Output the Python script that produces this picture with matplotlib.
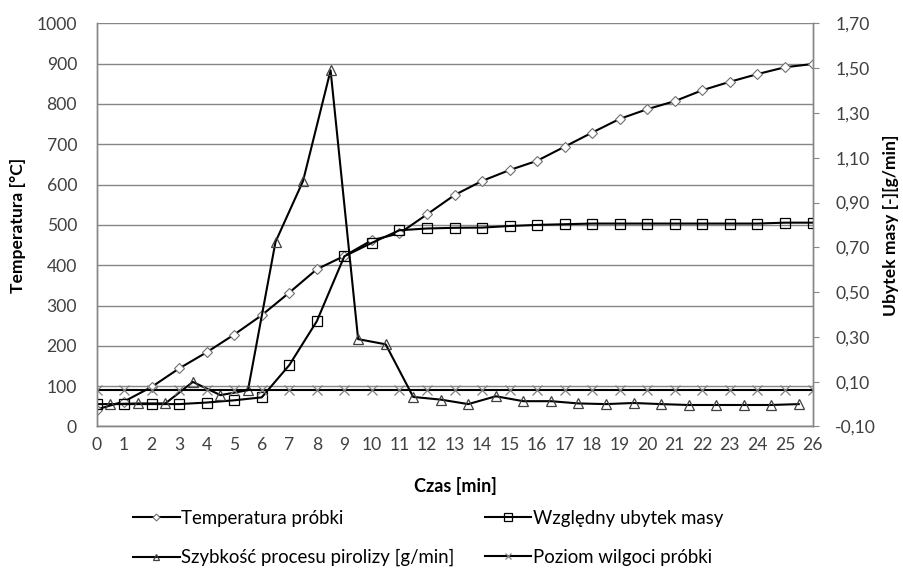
import matplotlib
matplotlib.use('Agg')
import matplotlib.pyplot as plt
from matplotlib.lines import Line2D

plt.rcParams['font.family'] = ['Lato', 'DejaVu Sans']

# czas pomiaru [min]
czas = [0, 1, 2, 3, 4, 5, 6, 7, 8, 9, 10, 11, 12, 13, 14, 15, 16, 17, 18,
        19, 20, 21, 22, 23, 24, 25, 26]
# szybkosc liczona w polowie przedzialow czasu
czas_srodek = [0.5, 1.5, 2.5, 3.5, 4.5, 5.5, 6.5, 7.5, 8.5, 9.5, 10.5, 11.5,
               12.5, 13.5, 14.5, 15.5, 16.5, 17.5, 18.5, 19.5, 20.5, 21.5,
               22.5, 23.5, 24.5, 25.5]

temperatura = [42, 62, 98, 144, 184, 228, 276, 332, 390, 423, 462, 479, 526,
               574, 609, 636, 659, 694, 729, 763, 787, 807, 834, 855, 874,
               891, 899]
ubytek_masy = [0.0, 0.0, 0.0, 0.0, 0.007, 0.017, 0.03, 0.174, 0.37, 0.66,
               0.72, 0.776, 0.784, 0.787, 0.788, 0.795, 0.80, 0.803, 0.806,
               0.806, 0.806, 0.806, 0.806, 0.806, 0.806, 0.81, 0.81]
szybkosc = [0.0, 0.003, 0.003, 0.099, 0.04, 0.062, 0.724, 0.996, 1.49, 0.29,
            0.267, 0.032, 0.02, 0.0, 0.035, 0.013, 0.013, 0.003, 0.0, 0.005,
            0.0, -0.004, -0.004, -0.004, -0.004, 0.0]
wilgoc = [0.065, 0.065, 0.065, 0.065, 0.065, 0.065, 0.065, 0.065, 0.065,
          0.065, 0.065, 0.065, 0.065, 0.065, 0.065, 0.065, 0.065, 0.065,
          0.065, 0.065, 0.065, 0.065, 0.065, 0.065, 0.065, 0.065, 0.065]

lewe_ticki = [0, 100, 200, 300, 400, 500, 600, 700, 800, 900, 1000]
prawe_ticki = [-0.10, 0.10, 0.30, 0.50, 0.70, 0.90, 1.10, 1.30, 1.50, 1.70]

nazwy = ['Temperatura próbki', 'Względny ubytek masy',
         'Szybkość procesu pirolizy [g/min]', 'Poziom wilgoci próbki']

szary = '#868686'
tekst = '#404040'
fs = 12.6

fig = plt.figure(figsize=(9.04, 5.69), dpi=100)
ax = fig.add_axes([0.10675, 0.25044, 0.79204, 0.70861])
ax2 = ax.twinx()

ax.set_xlim(0, 26)
ax.set_ylim(0, 1000)
ax2.set_ylim(-0.1, 1.7)

ax.set_xticks(czas)
ax.set_yticks(lewe_ticki)
ax2.set_yticks(prawe_ticki)
ax2.set_yticklabels([('%.2f' % v).replace('.', ',') for v in prawe_ticki])

ax.yaxis.grid(True, color=szary, lw=1.0)
ax.set_axisbelow(True)
ax.tick_params(axis='x', length=0, pad=7.5, labelsize=fs, labelcolor=tekst)
ax.tick_params(axis='y', length=0, pad=14, labelsize=fs, labelcolor=tekst)
ax2.tick_params(axis='y', length=4.3, width=0.8, color=szary, pad=12,
                labelsize=fs, labelcolor=tekst)

for a in (ax, ax2):
    a.spines['top'].set_visible(False)
    for s in ('left', 'right', 'bottom'):
        a.spines[s].set_color(szary)
        a.spines[s].set_linewidth(1.0)

styl_temp = dict(color='black', lw=1.5, marker='D', ms=5, mfc='white',
                 mec='#707070', mew=0.8)
styl_masa = dict(color='black', lw=1.5, marker='s', ms=7.8, mfc='none',
                 mec='black', mew=0.9)
styl_szyb = dict(color='black', lw=1.5, marker='^', ms=7, mfc='none',
                 mec='#404040', mew=0.9)
styl_wilg = dict(color='black', lw=1.5, marker='x', ms=7, mec='#808080',
                 mew=0.9)

ax.plot(czas, temperatura, **styl_temp)
ax2.plot(czas, ubytek_masy, **styl_masa)
ax2.plot(czas_srodek, szybkosc, **styl_szyb)
ax2.plot(czas, wilgoc, **styl_wilg)

# etykiety osi
fig.text(18.5 / 904, 1 - 225 / 569, 'Temperatura [°C]', rotation=90,
         ha='center', va='center', fontsize=fs, fontweight='bold',
         color='black')
fig.text(891 / 904, 1 - 225 / 569, 'Ubytek masy [-][g/min]', rotation=90,
         ha='center', va='center', fontsize=fs, fontweight='bold',
         color='black')
fig.text(455 / 904, 1 - 486 / 569, 'Czas [min]', ha='center', va='center',
         fontsize=13, fontweight='bold', color='black')

# legenda w dwoch wierszach
uchwyty = [Line2D([], [], **styl_temp), Line2D([], [], **styl_masa),
           Line2D([], [], **styl_szyb), Line2D([], [], **styl_wilg)]
for h in uchwyty:
    h.set_markersize(h.get_markersize() * 0.7)
kolejnosc = [0, 2, 1, 3]
fs_leg = 13.4
leg = fig.legend([uchwyty[i] for i in kolejnosc], [nazwy[i] for i in kolejnosc],
                 ncol=2, loc='center left',
                 bbox_to_anchor=(133 / 904, 1 - 538 / 569),
                 frameon=False, fontsize=fs_leg, handlelength=2.5,
                 handletextpad=0.1, columnspacing=1.6, labelspacing=1.2,
                 borderpad=0, borderaxespad=0, numpoints=1)
for t in leg.get_texts():
    t.set_color('black')

fig.savefig('out.png', dpi=100)
